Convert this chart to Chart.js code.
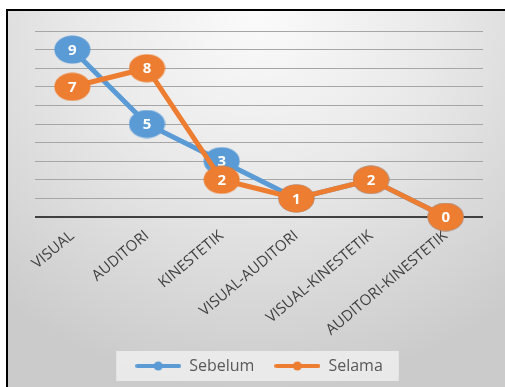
<!DOCTYPE html>
<html>
<head>
<meta charset="utf-8">
<script src="https://cdn.jsdelivr.net/npm/chart.js@4"></script>
<style>
  html, body { margin: 0; padding: 0; background: #fff; }
  #frame {
    position: absolute; left: 6px; top: 9px; width: 499px; height: 378px;
    border-left: 2px solid #000; border-top: 2px solid #000;
    background: radial-gradient(ellipse 80% 100% at 50% 0%, #fbfbfb 0%, #e9e9e9 45%, #cbcbcb 100%);
  }
  #wrap { position: absolute; left: 0; top: 0; width: 505px; height: 387px; }
</style>
</head>
<body>
<div id="frame"></div>
<div id="wrap"><canvas id="line-chart"></canvas></div>
<script>
// chart data
const categories = ['VISUAL', 'AUDITORI', 'KINESTETIK', 'VISUAL-AUDITORI', 'VISUAL-KINESTETIK', 'AUDITORI-KINESTETIK'];
const sebelum = [9, 5, 3, 1, 2, 0];
const selama = [7, 8, 2, 1, 2, 0];
const seriesNames = ['Sebelum', 'Selama'];
const seriesColours = ['#5B9BD5', '#ED7D31'];

// ellipse marker, the original is a bit stretched
makeMarker = function(colour){
  const c = document.createElement('canvas');
  c.width = 37; c.height = 29;
  const ctx = c.getContext('2d');
  ctx.fillStyle = colour;
  ctx.beginPath();
  ctx.ellipse(18.5, 14.5, 18, 14, 0, 0, Math.PI * 2);
  ctx.fill();
  return c;
}

// line with a dot, for the legend
makeLegendLine = function(colour){
  const c = document.createElement('canvas');
  c.width = 46; c.height = 10;
  const ctx = c.getContext('2d');
  ctx.strokeStyle = colour;
  ctx.lineWidth = 4;
  ctx.lineCap = 'round';
  ctx.beginPath();
  ctx.moveTo(2, 5); ctx.lineTo(44, 5);
  ctx.stroke();
  ctx.fillStyle = colour;
  ctx.beginPath();
  ctx.arc(23, 5, 4.5, 0, Math.PI * 2);
  ctx.fill();
  return c;
}

const legendLines = seriesColours.map(makeLegendLine);

// numbers inside the markers, drawn right after each dataset
const pointNumbers = {
  id: 'pointNumbers',
  afterDatasetDraw(chart, args) {
    const ctx = chart.ctx;
    const values = chart.data.datasets[args.index].data;
    ctx.save();
    ctx.fillStyle = '#ffffff';
    ctx.font = 'bold 15px "Open Sans"';
    ctx.textAlign = 'center';
    ctx.textBaseline = 'middle';
    args.meta.data.forEach((pt, i) => {
      ctx.fillText(values[i], pt.x, pt.y + 1);
    });
    ctx.restore();
  }
};

// lighter box behind the legend
const legendBox = {
  id: 'legendBox',
  beforeDraw(chart) {
    const boxes = chart.legend.legendHitBoxes;
    if (!boxes || !boxes.length) return;
    const first = boxes[0], last = boxes[boxes.length - 1];
    const ctx = chart.ctx;
    ctx.save();
    ctx.fillStyle = 'rgba(238,238,238,0.85)';
    ctx.fillRect(first.left - 19, first.top - 7, (last.left + last.width) - first.left + 35, first.height + 14);
    ctx.restore();
  }
};

var ctx = document.getElementById('line-chart').getContext('2d');
var lineChart = new Chart(ctx, {
  type: 'line',
  data: {
    labels: categories,
    datasets: [
      {
        label: seriesNames[0],
        data: sebelum,
        borderColor: seriesColours[0],
        backgroundColor: seriesColours[0],
        borderWidth: 5,
        pointStyle: makeMarker(seriesColours[0]),
        clip: false,
        order: 2
      },
      {
        label: seriesNames[1],
        data: selama,
        borderColor: seriesColours[1],
        backgroundColor: seriesColours[1],
        borderWidth: 5,
        pointStyle: makeMarker(seriesColours[1]),
        clip: false,
        order: 1
      }
    ]
  },
  plugins: [legendBox, pointNumbers],
  options: {
    responsive: true,
    maintainAspectRatio: false,
    animation: false,
    layout: {
      padding: { left: 35, right: 22, top: 31, bottom: 3 }
    },
    scales: {
      x: {
        offset: true,
        grid: { display: false },
        border: { display: false },
        ticks: {
          color: '#404040',
          font: { family: '"Open Sans"', size: 15 },
          maxRotation: 40,
          minRotation: 40,
          padding: 2
        },
        afterFit: function(scale) { scale.height = 121; }
      },
      y: {
        min: 0,
        max: 10,
        ticks: { display: false, stepSize: 1 },
        border: { display: false },
        grid: {
          drawTicks: false,
          color: function(c) { return c.tick.value === 0 ? '#404040' : '#a6a6a6'; },
          lineWidth: function(c) { return c.tick.value === 0 ? 2 : 1; }
        }
      }
    },
    plugins: {
      tooltip: { enabled: false },
      legend: {
        position: 'bottom',
        labels: {
          usePointStyle: true,
          pointStyleWidth: 46,
          padding: 20,
          color: '#595959',
          font: { family: '"Open Sans"', size: 16 },
          sort: function(a, b) { return a.datasetIndex - b.datasetIndex; },
          generateLabels: function(chart) {
            const items = Chart.defaults.plugins.legend.labels.generateLabels(chart);
            items.forEach(function(item) { item.pointStyle = legendLines[item.datasetIndex]; });
            return items;
          }
        }
      }
    }
  }
});
</script>
</body>
</html>
